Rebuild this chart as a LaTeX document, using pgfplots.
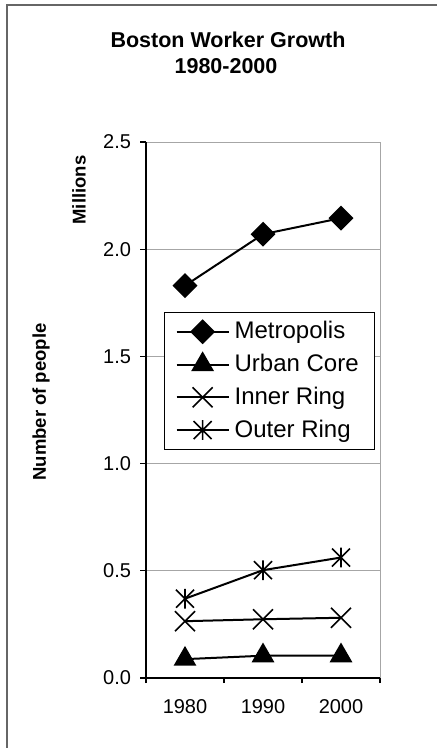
\documentclass[border=0pt]{standalone}
\usepackage{fontspec}
\setmainfont{Liberation Sans}
\usepackage{pgfplots}
\pgfplotsset{compat=1.18}

% Spreadsheet-style cross and star markers
\pgfdeclareplotmark{xcross}{%
  \pgfpathmoveto{\pgfqpoint{-\pgfplotmarksize}{-\pgfplotmarksize}}%
  \pgfpathlineto{\pgfqpoint{\pgfplotmarksize}{\pgfplotmarksize}}%
  \pgfpathmoveto{\pgfqpoint{-\pgfplotmarksize}{\pgfplotmarksize}}%
  \pgfpathlineto{\pgfqpoint{\pgfplotmarksize}{-\pgfplotmarksize}}%
  \pgfusepathqstroke}
\pgfdeclareplotmark{xstar}{%
  \pgfpathmoveto{\pgfqpoint{-\pgfplotmarksize}{-\pgfplotmarksize}}%
  \pgfpathlineto{\pgfqpoint{\pgfplotmarksize}{\pgfplotmarksize}}%
  \pgfpathmoveto{\pgfqpoint{-\pgfplotmarksize}{\pgfplotmarksize}}%
  \pgfpathlineto{\pgfqpoint{\pgfplotmarksize}{-\pgfplotmarksize}}%
  \pgfpathmoveto{\pgfqpoint{0pt}{-1.1\pgfplotmarksize}}%
  \pgfpathlineto{\pgfqpoint{0pt}{1.1\pgfplotmarksize}}%
  \pgfusepathqstroke}

\begin{document}
\begin{tikzpicture}
\useasboundingbox (0,0) rectangle (218pt,-374pt);

\begin{scope}[x=0.5pt,y=-0.5pt]
  % chart area frame (left and top edges)
  \draw[gray!80!black, line width=0.6pt] (7,760) -- (7,5) -- (450,5);
  \node[font=\bfseries\fontsize{10.75}{12}\selectfont] at (228,40) {Boston Worker Growth};
  \node[font=\bfseries\fontsize{10.75}{12}\selectfont] at (226,66) {1980-2000};
  \node[rotate=90, font=\bfseries\fontsize{9.25}{11}\selectfont] at (41,402) {Number of people};
  \node[rotate=90, font=\bfseries\fontsize{9.25}{11}\selectfont] at (79,190) {Millions};
\end{scope}

\begin{axis}[
  at={(73pt,-339pt)}, anchor=south west,
  width=117pt, height=268pt, scale only axis,
  xmin=-0.5, xmax=2.5, ymin=0, ymax=2.5,
  xtick={0,1,2}, xticklabels={1980,1990,2000},
  minor xtick={-0.5,0.5,1.5,2.5},
  major x tick style={draw=none},
  ytick={0,0.5,1,1.5,2,2.5},
  tick align=outside,
  major tick length=3pt, minor tick length=2.5pt,
  axis x line*=bottom, axis y line*=left,
  axis line style={black, line width=0.6pt, -},
  tick style={black, line width=0.6pt},
  ymajorgrids, grid style={gray!70, line width=0.4pt},
  /pgf/number format/assume math mode=true,
  tick label style={font=\fontsize{10}{11}\selectfont},
  xticklabel style={yshift=-4pt},
  yticklabel style={xshift=-1pt, /pgf/number format/.cd, fixed, fixed zerofill, precision=1},
  clip=false,
  legend style={at={(0.077,0.683)}, anchor=north west,
    draw=black, line width=0.6pt,
    font=\fontsize{12}{13}\selectfont,
    inner xsep=5.5pt, inner ysep=2pt, row sep=1.2pt,
    nodes={inner sep=2.5pt}},
  legend cell align=left,
  legend image code/.code={\draw[mark repeat=2,mark phase=2] plot coordinates {(0pt,0pt)(13pt,0pt)(26pt,0pt)};},
  every axis plot/.append style={black, line width=1pt},
]
\draw[gray!70, line width=0.4pt] (rel axis cs:1,0) -- (rel axis cs:1,1);

\addplot[mark=square*, mark size=3.9pt, mark options={rotate=45, solid}]
  coordinates {(0,1.83) (1,2.07) (2,2.145)};
\addlegendentry{Metropolis}
\addplot[mark=triangle*, mark size=5.6pt, mark options={solid}]
  coordinates {(0,0.088) (1,0.104) (2,0.104)};
\addlegendentry{Urban Core}
\addplot[mark=xcross, mark size=5pt, mark options={solid, line width=0.8pt}]
  coordinates {(0,0.265) (1,0.274) (2,0.281)};
\addlegendentry{Inner Ring}
\addplot[mark=xstar, mark size=4.5pt, mark options={solid, line width=0.8pt}]
  coordinates {(0,0.37) (1,0.503) (2,0.562)};
\addlegendentry{Outer Ring}
\end{axis}
\end{tikzpicture}
\end{document}
